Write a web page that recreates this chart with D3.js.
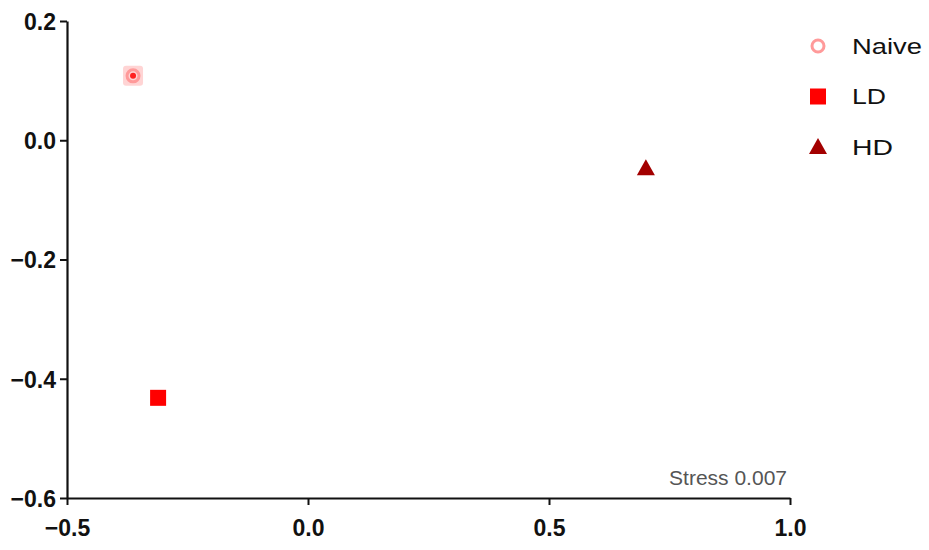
<!DOCTYPE html>
<html><head><meta charset="utf-8">
<script src="https://cdn.jsdelivr.net/npm/d3@7"></script>
<style>body{margin:0;background:#fff;} svg{display:block;}</style>
</head><body>
<svg id="c" width="929" height="550"></svg>
<script>
const groups = ["Naive", "LD", "HD"];
const xValues = [-0.363, -0.311, 0.701];
const yValues = [0.108, -0.432, -0.047];
const xTicks = [-0.5, 0.0, 0.5, 1.0];
const yTicks = [0.2, 0.0, -0.2, -0.4, -0.6];
const stressLabel = "Stress 0.007";

const svg = d3.select("#c");
const x = d3.scaleLinear().domain([-0.5, 1.0]).range([67, 790]);
const y = d3.scaleLinear().domain([-0.6, 0.2]).range([498, 21]);
const font = "'Liberation Sans', Arial, sans-serif";

const xAxis = svg.append("g").attr("transform", "translate(0,498)")
  .call(d3.axisBottom(x).tickValues(xTicks).tickFormat(d3.format(".1f")).tickSize(7).tickSizeOuter(0));
const yAxis = svg.append("g").attr("transform", "translate(67,0)")
  .call(d3.axisLeft(y).tickValues(yTicks).tickFormat(d3.format(".1f")).tickSize(7).tickSizeOuter(0));
[xAxis, yAxis].forEach(a => {
  a.select(".domain").attr("stroke", "#111").attr("stroke-width", 2.2);
  a.selectAll(".tick line").attr("stroke", "#111").attr("stroke-width", 2);
  a.selectAll("text").attr("fill", "#111").style("font-family", font)
    .style("font-size", "23px").style("font-weight", "bold");
});
xAxis.selectAll("text").attr("y", 22).attr("dy", "0.71em");
yAxis.selectAll("text").attr("x", -11).attr("dy", "0.36em");

const colors = {Naive: "#ff9a9a", LD: "#ff0000", HD: "#a30000"};

function drawMarker(g, name, cx, cy, inPlot) {
  if (name === "Naive") {
    if (inPlot) {
      g.append("rect").attr("x", cx - 10).attr("y", cy - 10).attr("width", 20).attr("height", 20)
        .attr("rx", 3).attr("fill", "#ffb0b0").attr("opacity", 0.55);
    }
    g.append("circle").attr("cx", cx).attr("cy", cy).attr("r", 6)
      .attr("fill", "none").attr("stroke", colors.Naive).attr("stroke-width", 3);
    if (inPlot) {
      g.append("circle").attr("cx", cx).attr("cy", cy).attr("r", 3).attr("fill", "#ff2020");
    }
  } else if (name === "LD") {
    g.append("rect").attr("x", cx - 8).attr("y", cy - 8).attr("width", 16).attr("height", 16)
      .attr("fill", colors.LD);
  } else {
    g.append("path").attr("d", `M${cx},${cy - 9} L${cx + 9},${cy + 7} L${cx - 9},${cy + 7} Z`)
      .attr("fill", colors.HD);
  }
}

const pts = svg.append("g");
groups.forEach((gname, i) => drawMarker(pts, gname, x(xValues[i]), y(yValues[i]), true));

const legendWidths = {Naive: 70, LD: 34, HD: 41};
const leg = svg.append("g");
groups.forEach((gname, i) => {
  const cy = 46 + i * 50.5;
  drawMarker(leg, gname, 818, cy, false);
  leg.append("text").attr("x", 852).attr("y", cy).attr("dy", "0.36em")
    .attr("textLength", legendWidths[gname]).attr("lengthAdjust", "spacingAndGlyphs")
    .style("font-family", font).style("font-size", "22px").attr("fill", "#111").text(gname);
});

svg.append("text").attr("x", 787).attr("y", 477).attr("dy", "0.36em").attr("text-anchor", "end")
  .style("font-family", font).style("font-size", "21px").attr("fill", "#555").text(stressLabel);
</script>
</body></html>
